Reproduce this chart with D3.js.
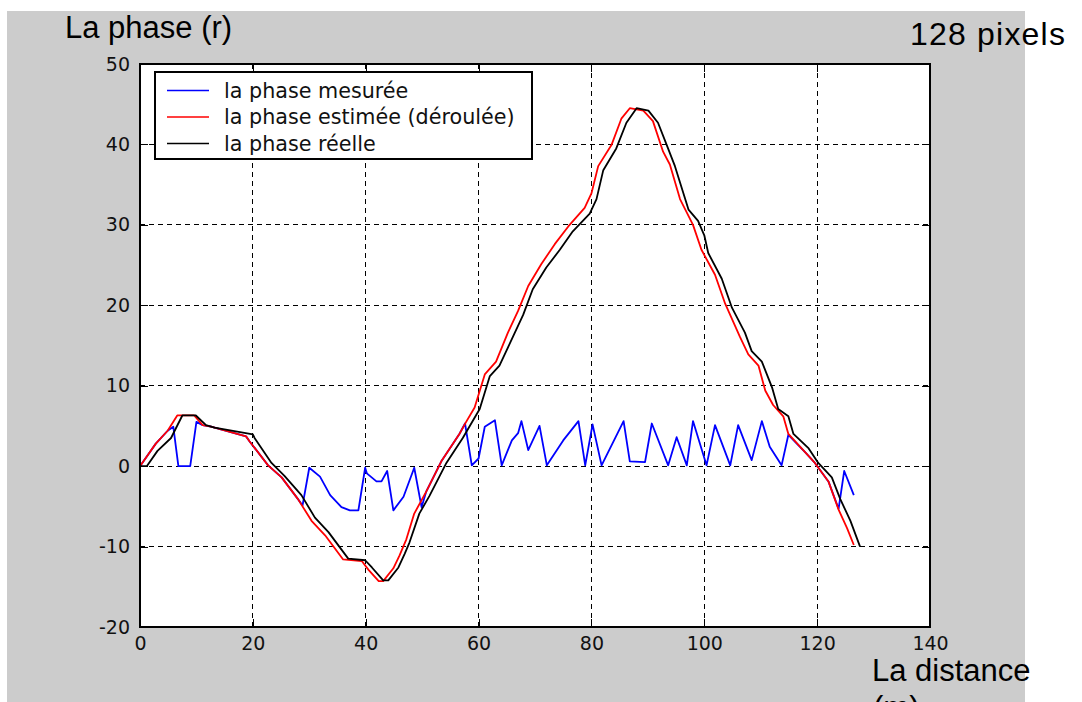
<!DOCTYPE html>
<html>
<head>
<meta charset="utf-8">
<script src="https://cdn.jsdelivr.net/npm/d3@7"></script>
<style>
  html, body { margin: 0; padding: 0; background: #fff; }
  svg { display: block; }
</style>
</head>
<body>
<div id="chart"></div>
<script>
// Tick values
const xTicks = [0, 20, 40, 60, 80, 100, 120, 140];
const yTicks = [-20, -10, 0, 10, 20, 30, 40, 50];

// Series names (legend order = drawing order)
const seriesNames = ["la phase mesurée", "la phase estimée (déroulée)", "la phase réelle"];
const seriesColors = ["#0000ff", "#ff0000", "#000000"];

// la phase mesurée (blue) as [distance, phase]
const mesuree = [
  [0, 0], [2.8, 2.8], [4.9, 4.4], [5.9, 4.9], [6.8, 0], [8.9, 0], [10, 5.5],
  [11.1, 5.1], [12.6, 4.9], [18.8, 3.7], [19.4, 3.1], [22.7, 0.1], [25.1, -1.4],
  [28, -4.1], [28.8, -4.9], [30, -0.2], [31.9, -1.3], [33.7, -3.6], [35.7, -5.1],
  [37.2, -5.5], [38.7, -5.5], [39.9, -0.2], [40.2, -0.9], [41.9, -1.9], [42.8, -1.9],
  [43.8, -0.6], [44.9, -5.5], [46.7, -3.8], [48.6, -0.2], [49.9, -5.1], [50.7, -3.2],
  [53.4, 0.6], [56.6, 4], [57.6, 5.3], [58.8, 0.1], [60, 0.95], [61.1, 4.9],
  [62.9, 5.7], [64.1, 0.1], [65.9, 3.2], [67, 4.1], [67.6, 5.6], [68.8, 2],
  [70.8, 5], [72.1, 0.1], [75, 3.2], [77.7, 5.6], [78.9, 0.1], [80.2, 5.2],
  [81.8, 0.1], [85.7, 5.6], [86.8, 0.6], [89.5, 0.5], [90.7, 5.3], [93.6, 0.1],
  [95.1, 3.6], [96.9, 0.1], [98, 5.6], [100.4, 0.1], [101.9, 5.1], [104.6, 0.1],
  [106, 5.1], [108.4, 0.75], [110.2, 5.6], [111.6, 2.4], [113.7, 0.1], [114.9, 3.9],
  [117.9, 1.7], [119.6, 0.4], [122, -1.9], [123.8, -5.3], [124.8, -0.6], [126.5, -3.6]
];

// la phase estimée (déroulée) (red)
const estimee = [
  [0, 0], [2.8, 2.8], [4.9, 4.4], [6.6, 6.3], [9.6, 6.3], [11.1, 5.1], [12.6, 4.9],
  [18.8, 3.7], [19.4, 3.1], [22.7, 0.1], [25.1, -1.4], [28, -4.1], [30.4, -6.8],
  [32.8, -8.6], [36, -11.6], [39.3, -11.8], [40.5, -12.9], [42.3, -14.3], [43.1, -14.3],
  [44.9, -12.7], [46, -11.1], [47.2, -9.1], [48.6, -5.9], [50.7, -3.2], [53.4, 0.6],
  [56.6, 4], [57.8, 5.5], [59.3, 7.3], [61.1, 11.4], [63.1, 13], [65.2, 16.6],
  [67, 19.3], [68.8, 22.4], [71.1, 25.1], [73.5, 27.6], [75.9, 29.8], [78.8, 32.1],
  [80, 33.9], [81.2, 37.3], [83.6, 40], [85.3, 43.2], [86.8, 44.5], [89.2, 44.2],
  [90.9, 42.9], [92.7, 39.1], [93.9, 37.5], [95.7, 33.2], [98, 30], [99.5, 26.9],
  [101.9, 23.8], [103.7, 20.2], [106.3, 16.1], [107.8, 13.9], [109.6, 12.5],
  [110.8, 9.4], [112.2, 7.6], [114, 6.2], [114.9, 4], [117.9, 1.7], [119.6, 0.4],
  [122, -1.9], [123.8, -5.4], [125.3, -7.7], [126.5, -9.8]
];

// la phase réelle (black)
const reelle = [
  [0, 0], [1.2, 0], [3.1, 1.9], [5.5, 3.5], [7.5, 6.3], [9.9, 6.3], [11.7, 5.1],
  [13.2, 4.8], [20, 3.96], [20.3, 3.5], [23.3, 0.4], [25.6, -1.2], [28.6, -3.6],
  [31, -6.4], [33.4, -8.2], [36.9, -11.5], [39.9, -11.7], [41.1, -12.6], [43.1, -14.2],
  [44, -14.2], [45.8, -12.6], [46.9, -10.9], [47.75, -9.5], [49.5, -5.9], [51.3, -3.7],
  [54.3, 0.4], [57.2, 3.5], [58.7, 5.3], [60.2, 7.1], [62, 11.2], [63.7, 12.5],
  [66.1, 16.1], [67.9, 18.8], [69.6, 22], [72, 24.7], [74.4, 26.9], [76.7, 29.2],
  [79.7, 31.4], [80.9, 33.2], [82.1, 36.8], [84.4, 39.5], [86.2, 42.7], [88, 44.5],
  [90.1, 44.2], [91.8, 42.7], [93.3, 40], [94.8, 37.3], [97.2, 31.9], [98.9, 30.5],
  [100, 28.7], [100.7, 26.5], [103.1, 23.3], [104.9, 19.7], [107.2, 16.6],
  [108.4, 14.3], [110.2, 13], [112, 9.8], [113.1, 7.1], [114.9, 6.2], [115.8, 4],
  [118.5, 2.2], [120.2, 0.4], [122.6, -1.4], [124.1, -4.1], [125.9, -6.8], [127.6, -10]
];

const width = 1082;
const height = 702;
const plot = { left: 140, top: 64, right: 930, bottom: 627 };

const svg = d3.select("#chart").append("svg")
    .attr("width", width)
    .attr("height", height);

// Grey figure background
svg.append("rect")
    .attr("x", 7).attr("y", 11)
    .attr("width", 1018).attr("height", height)
    .attr("fill", "#cccccc");

// Scales
const x = d3.scaleLinear().domain([0, 140]).range([plot.left, plot.right]);
const y = d3.scaleLinear().domain([-20, 50]).range([plot.bottom, plot.top]);

// White axes area
svg.append("rect")
    .attr("x", plot.left).attr("y", plot.top)
    .attr("width", plot.right - plot.left).attr("height", plot.bottom - plot.top)
    .attr("fill", "#fff");

// Grid lines
const grid = svg.append("g")
    .attr("stroke", "#000")
    .attr("stroke-width", 1)
    .attr("stroke-dasharray", "5,4")
    .attr("shape-rendering", "crispEdges");

grid.selectAll("line.v")
    .data(xTicks.slice(1, -1))
    .join("line")
    .attr("class", "v")
    .attr("x1", d => x(d)).attr("x2", d => x(d))
    .attr("y1", plot.top).attr("y2", plot.bottom);

grid.selectAll("line.h")
    .data(yTicks.slice(1, -1))
    .join("line")
    .attr("class", "h")
    .attr("x1", plot.left).attr("x2", plot.right)
    .attr("y1", d => y(d)).attr("y2", d => y(d));

// Axes with inward ticks
const tickFont = "'DejaVu Sans', sans-serif";
const plainNum = d => String(d);   // keep the ASCII hyphen for negatives

function styleAxis(g) {
  g.select(".domain").remove();
  g.selectAll(".tick line").attr("stroke", "#000").attr("shape-rendering", "crispEdges");
  g.selectAll("text")
      .attr("fill", "#111")
      .style("font-family", tickFont)
      .style("font-size", "19px");
}

svg.append("g")
    .attr("transform", `translate(0,${plot.bottom})`)
    .call(d3.axisBottom(x).tickValues(xTicks).tickSize(-8).tickPadding(10).tickFormat(plainNum))
    .call(styleAxis);

svg.append("g")
    .attr("transform", `translate(${plot.left},0)`)
    .call(d3.axisLeft(y).tickValues(yTicks).tickSize(-8).tickPadding(10).tickFormat(plainNum))
    .call(styleAxis);

svg.append("g")
    .attr("transform", `translate(0,${plot.top})`)
    .call(d3.axisTop(x).tickValues(xTicks).tickSize(-8).tickFormat(""))
    .call(styleAxis);

svg.append("g")
    .attr("transform", `translate(${plot.right},0)`)
    .call(d3.axisRight(y).tickValues(yTicks).tickSize(-8).tickFormat(""))
    .call(styleAxis);

// Curves
const line = d3.line()
    .x(d => x(d[0]))
    .y(d => y(d[1]));

const series = [mesuree, estimee, reelle];

svg.append("g")
    .selectAll("path")
    .data(series)
    .join("path")
    .attr("d", line)
    .attr("fill", "none")
    .attr("stroke", (d, i) => seriesColors[i])
    .attr("stroke-width", 1.8)
    .attr("stroke-linejoin", "round");

// Axes box
svg.append("rect")
    .attr("x", plot.left).attr("y", plot.top)
    .attr("width", plot.right - plot.left).attr("height", plot.bottom - plot.top)
    .attr("fill", "none")
    .attr("stroke", "#000")
    .attr("stroke-width", 1.3)
    .attr("shape-rendering", "crispEdges");

// Legend
const legend = svg.append("g").attr("transform", "translate(155,72)");

legend.append("rect")
    .attr("width", 377).attr("height", 87)
    .attr("fill", "#fff")
    .attr("stroke", "#000")
    .attr("stroke-width", 1.3)
    .attr("shape-rendering", "crispEdges");

const item = legend.selectAll("g.item")
    .data(seriesNames)
    .join("g")
    .attr("class", "item")
    .attr("transform", (d, i) => `translate(0,${18.5 + i * 26.5})`);

item.append("line")
    .attr("x1", 12).attr("x2", 54)
    .attr("stroke", (d, i) => seriesColors[i])
    .attr("stroke-width", 1.3);

item.append("text")
    .attr("x", 69)
    .attr("dy", "0.35em")
    .attr("fill", "#111")
    .style("font-family", tickFont)
    .style("font-size", "20.7px")
    .text(d => d);

// Axis titles
const titleFont = "'Liberation Sans', Arial, sans-serif";

svg.append("text")
    .attr("x", 65).attr("y", 38)
    .style("font-family", titleFont)
    .style("font-size", "31px")
    .text("La phase (r)");

svg.append("text")
    .attr("x", 910).attr("y", 45)
    .style("font-family", titleFont)
    .style("font-size", "32px")
    .style("letter-spacing", "1.2px")
    .text("128 pixels");

svg.append("text")
    .attr("x", 872).attr("y", 681)
    .style("font-family", titleFont)
    .style("font-size", "31px")
    .text("La distance");

svg.append("text")
    .attr("x", 873).attr("y", 718)
    .style("font-family", titleFont)
    .style("font-size", "31px")
    .text("(m)");
</script>
</body>
</html>
